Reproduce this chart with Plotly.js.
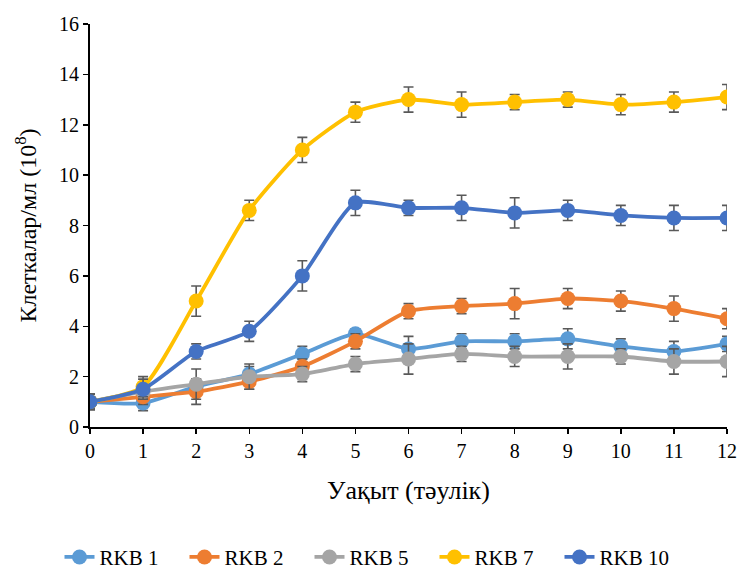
<!DOCTYPE html>
<html><head><meta charset="utf-8">
<script src="https://cdn.plot.ly/plotly-3.0.1.min.js"></script>
<style>html,body{margin:0;padding:0;background:#fff}#chart{width:744px;height:571px}</style>
</head><body><div id="chart"></div>
<script>
const days = [0,1,2,3,4,5,6,7,8,9,10,11,12];
const rkb1 = [1.0,0.95,1.6,2.1,2.9,3.7,3.1,3.4,3.4,3.5,3.2,3.0,3.3];
const rkb1Err = [0.3,0.3,0.3,0.3,0.3,0.2,0.5,0.3,0.3,0.4,0.3,0.4,0.3];
const rkb2 = [1.0,1.2,1.4,1.8,2.4,3.4,4.6,4.8,4.9,5.1,5.0,4.7,4.3];
const rkb2Err = [0.3,0.3,0.5,0.3,0.3,0.3,0.3,0.3,0.6,0.4,0.4,0.5,0.4];
const rkb5 = [1.0,1.4,1.7,2.0,2.1,2.5,2.7,2.9,2.8,2.8,2.8,2.6,2.6];
const rkb5Err = [0.3,0.3,0.6,0.5,0.3,0.3,0.6,0.3,0.4,0.5,0.3,0.5,0.6];
const rkb7 = [1.0,1.6,5.0,8.6,11.0,12.5,13.0,12.8,12.9,13.0,12.8,12.9,13.1];
const rkb7Err = [0.3,0.4,0.6,0.4,0.5,0.4,0.5,0.5,0.3,0.3,0.4,0.4,0.5];
const rkb10 = [1.0,1.5,3.0,3.8,6.0,8.9,8.7,8.7,8.5,8.6,8.4,8.3,8.3];
const rkb10Err = [0.3,0.4,0.3,0.4,0.6,0.5,0.3,0.5,0.6,0.4,0.4,0.5,0.5];
const names = ['RKB 1','RKB 2','RKB 5','RKB 7','RKB 10'];
const colors = ['#5B9BD5','#ED7D31','#A5A5A5','#FFC000','#4472C4'];
const series = [rkb1,rkb2,rkb5,rkb7,rkb10];
const errs = [rkb1Err,rkb2Err,rkb5Err,rkb7Err,rkb10Err];

const traces = series.map((s,i)=>({
  x: days, y: s, name: names[i], type:'scatter', mode:'lines+markers',
  line:{color:colors[i], width:3.8, shape:'spline', smoothing:0.6},
  marker:{color:colors[i], size:15},
  error_y:{type:'data', array:errs[i], visible:true, color:'#595959', thickness:1.6, width:5}
}));

const font = "Times New Roman, Liberation Serif, serif";
const layout = {
  width:744, height:571,
  margin:{l:90, r:17, t:24, b:144, autoexpand:false},
  paper_bgcolor:'#fff', plot_bgcolor:'#fff',
  font:{family:font, size:20, color:'#000'},
  showlegend:true,
  legend:{orientation:'h', x:0.5, xref:'container', xanchor:'center', y:0.024, yref:'container', yanchor:'middle',
    font:{family:font, size:21, color:'#000'}, tracegroupgap:0, entrywidth:80, entrywidthmode:'pixels'},
  xaxis:{range:[0,12], tickmode:'array', tickvals:days, ticks:'outside', ticklen:5, tickwidth:1.5, tickcolor:'#000',
    showline:true, linecolor:'#000', linewidth:2, showgrid:false, zeroline:false,
    tickfont:{family:font,size:20,color:'#000'},
    title:{text:'Уақыт (тәулік)', font:{family:font,size:26,color:'#000'}, standoff:20}},
  yaxis:{range:[0,16], dtick:2, ticks:'outside', ticklen:5, tickwidth:1.5, tickcolor:'#000',
    showline:true, linecolor:'#000', linewidth:2, showgrid:false, zeroline:false,
    tickfont:{family:font,size:20,color:'#000'},
    title:{text:'Клеткалар/мл (10<sup>8</sup>)', font:{family:font,size:24,color:'#000'}, standoff:16}}
};
Plotly.newPlot('chart', traces, layout, {displayModeBar:false, staticPlot:true});
</script></body></html>
